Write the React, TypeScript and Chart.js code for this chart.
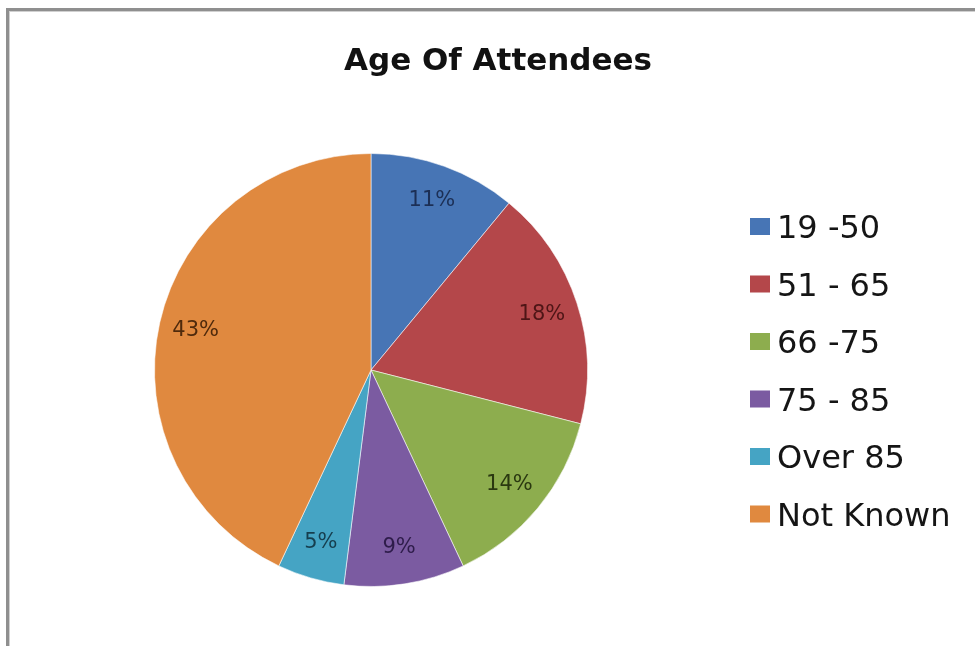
import React, { useEffect, useRef } from "react";
import { Chart, registerables } from "chart.js";

Chart.register(...registerables);

const chartTitle = "Age Of Attendees";
const categories = ["19 -50", "51 - 65", "66 -75", "75 - 85", "Over 85", "Not Known"];
const percentValues = [11, 18, 14, 9, 5, 43];
const sliceColors = ["#4775B5", "#B4474A", "#8DAD4E", "#7B5BA1", "#45A4C4", "#E0893F"];
const labelColors = ["#1C2F55", "#4E1516", "#2A3810", "#2E1C4A", "#163E4E", "#4F2A0C"];

const framePlugin = {
  id: "frame",
  beforeDraw(chart: any) {
    const ctx = chart.ctx;
    ctx.save();
    ctx.fillStyle = "#ffffff";
    ctx.fillRect(0, 0, chart.width, chart.height);
    ctx.fillStyle = "#8f8f8f";
    ctx.fillRect(6, 8, chart.width - 6, 3);
    ctx.fillRect(6, 8, 3, chart.height - 8);
    ctx.fillStyle = "#d0d0d0";
    ctx.fillRect(9, 11, chart.width - 9, 1);
    ctx.fillRect(9, 11, 1, chart.height - 11);
    ctx.restore();
  },
};

const labelsPlugin = {
  id: "sliceLabels",
  afterDatasetsDraw(chart: any) {
    const ctx = chart.ctx;
    const meta = chart.getDatasetMeta(0);
    ctx.save();
    ctx.font = "21px 'DejaVu Sans'";
    ctx.textAlign = "center";
    ctx.textBaseline = "middle";
    meta.data.forEach((arc: any, i: number) => {
      const { x, y, startAngle, endAngle, outerRadius } = arc.getProps(
        ["x", "y", "startAngle", "endAngle", "outerRadius"],
        true
      );
      const mid = (startAngle + endAngle) / 2;
      const r = outerRadius * 0.83;
      ctx.fillStyle = labelColors[i];
      ctx.fillText(percentValues[i] + "%", x + Math.cos(mid) * r, y + Math.sin(mid) * r);
    });
    ctx.restore();
  },
};

const titleLegendPlugin = {
  id: "titleLegend",
  afterDraw(chart: any) {
    const ctx = chart.ctx;
    ctx.save();
    ctx.fillStyle = "#111111";
    ctx.font = "bold 31px 'DejaVu Sans'";
    ctx.textAlign = "center";
    ctx.textBaseline = "alphabetic";
    ctx.fillText(chartTitle, 498, 70);

    const labels = chart.data.labels as string[];
    const colors = chart.data.datasets[0].backgroundColor as string[];
    ctx.font = "32px 'DejaVu Sans'";
    ctx.textAlign = "left";
    const firstCenter = 226.5;
    const step = 57.5;
    labels.forEach((lab, i) => {
      const cy = firstCenter + i * step;
      ctx.fillStyle = colors[i];
      ctx.fillRect(750, cy - 8.5, 20, 17);
      ctx.fillStyle = "#151515";
      ctx.fillText(lab, 777, cy + 11.5);
    });
    ctx.restore();
  },
};

export default function App() {
  const canvasRef = useRef<HTMLCanvasElement | null>(null);

  useEffect(() => {
    if (!canvasRef.current) return;
    const chart = new Chart(canvasRef.current, {
      type: "pie",
      data: {
        labels: categories,
        datasets: [
          {
            data: percentValues,
            backgroundColor: sliceColors,
            borderColor: "rgba(255,255,255,0.55)",
            borderWidth: 1,
          },
        ],
      },
      options: {
        responsive: false,
        animation: false,
        layout: {
          padding: { left: 154, right: 387, top: 153, bottom: 59 },
        },
        plugins: {
          legend: { display: false },
          title: { display: false },
          tooltip: { enabled: false },
        },
      },
      plugins: [framePlugin, labelsPlugin, titleLegendPlugin],
    });
    return () => chart.destroy();
  }, []);

  return (
    <div style={{ position: "absolute", left: 0, top: 0, width: 975, height: 646, background: "#fff" }}>
      <canvas ref={canvasRef} width={975} height={646} style={{ display: "block" }} />
    </div>
  );
}
